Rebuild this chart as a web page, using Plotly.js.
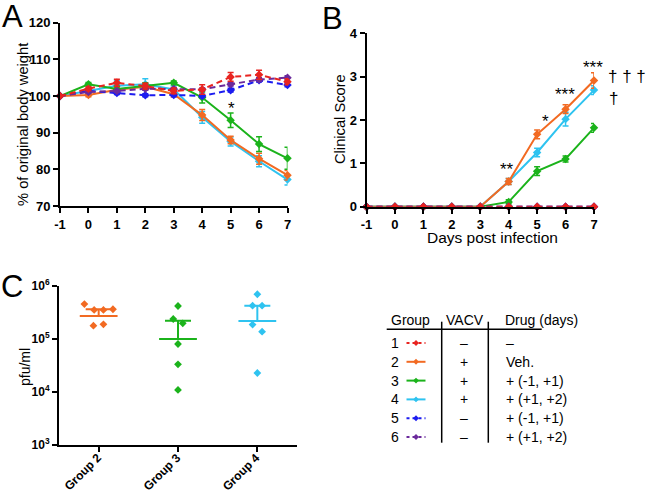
<!DOCTYPE html>
<html><head><meta charset="utf-8">
<script src="https://cdn.plot.ly/plotly-3.0.1.min.js"></script>
<style>html,body{margin:0;padding:0;background:#fff}#plot{width:650px;height:491px}</style>
</head><body><div id="plot"></div>
<script>
// ---------- data ----------
const days = [-1, 0, 1, 2, 3, 4, 5, 6, 7];
const dayLabels = ['-1', '0', '1', '2', '3', '4', '5', '6', '7'];
// Panel A: % of original body weight (mean, SEM)
const wG1 = [100, 102.0, 103.6, 102.7, 101.4, 101.8, 105.2, 105.8, 103.9];
const eG1 = [0, 0.5, 1.0, 0.8, 0.8, 1.3, 1.2, 1.2, 0.8];
const wG2 = [100, 100.3, 101.7, 102.5, 100.5, 94.8, 88.0, 82.9, 78.4];
const eG2 = [0, 0.5, 0.8, 0.8, 0.8, 1.5, 1.0, 1.5, 1.3];
const wG3 = [100, 103.2, 101.9, 102.8, 103.6, 99.6, 93.4, 86.9, 83.0];
const eG3 = [0, 0.5, 0.8, 0.8, 0.5, 1.5, 2.0, 2.0, 3.0];
const wG4 = [100, 101.3, 102.8, 103.2, 101.8, 94.2, 87.6, 82.2, 77.2];
const eG4 = [0, 0.6, 1.5, 1.5, 1.0, 1.6, 1.2, 1.5, 1.5];
const wG5 = [100, 101.4, 100.8, 100.2, 100.3, 100.0, 101.6, 104.3, 103.0];
const eG5 = [0, 0.4, 0.4, 0.4, 0.4, 0.4, 0.5, 0.5, 0.5];
const wG6 = [100, 101.1, 101.4, 102.0, 101.9, 101.8, 103.2, 104.5, 105.0];
const eG6 = [0, 0.4, 0.4, 0.4, 0.4, 0.4, 0.5, 0.5, 0.5];
// Panel B: clinical score (mean, SEM)
const sG1 = [0, 0, 0, 0, 0, 0, 0, 0, 0];
const sG2 = [0, 0, 0, 0, 0, 0.58, 1.67, 2.25, 2.91];
const seG2 = [0, 0, 0, 0, 0, 0.07, 0.1, 0.1, 0.18];
const sG3 = [0, 0, 0, 0, 0, 0.11, 0.82, 1.10, 1.82];
const seG3 = [0, 0, 0, 0, 0, 0.05, 0.1, 0.07, 0.1];
const sG4 = [0, 0, 0, 0, 0, 0.58, 1.25, 2.02, 2.69];
const seG4 = [0, 0, 0, 0, 0, 0.07, 0.1, 0.16, 0.1];
const sG5 = [0, 0, 0, 0, 0, 0, 0, 0, 0];
const sG6 = [0, 0, 0, 0, 0, 0, 0, 0, 0];
// Panel C: pfu/ml per animal
const cGroups = ['Group 2', 'Group 3', 'Group 4'];
const pfuG2 = [4.5e5, 3.5e5, 3.5e5, 3.6e5, 1.77e5, 1.87e5];
const jitG2 = [-0.18, -0.057, 0.06, 0.18, -0.066, 0.06];
const pfuG3 = [4.15e5, 2.36e5, 1.96e5, 7.98e4, 3.3e4, 1.09e4];
const jitG3 = [0, -0.06, 0.06, 0, 0, 0];
const pfuG4 = [6.9e5, 4.2e5, 4.2e5, 1.85e5, 1.36e5, 2.27e4];
const jitG4 = [0, -0.06, 0.06, -0.06, 0.06, 0];
const pfuMean = [2.7e5, 9.9e4, 2.16e5];
const pfuUpper = [3.6e5, 2.19e5, 4.2e5];
// Table
const tblGroups = ['1', '2', '3', '4', '5', '6'];
const tblVACV = ['\u2013', '+', '+', '+', '\u2013', '\u2013'];
const tblDrug = ['\u2013', 'Veh.', '+ (-1, +1)', '+ (+1, +2)', '+ (-1, +1)', '+ (+1, +2)'];

// ---------- styles ----------
const C = {g1: '#E82420', g2: '#F26A22', g3: '#1BB31B', g4: '#2EC3F0', g5: '#1C1CF0', g6: '#6B2A9C'};
const W = 650, H = 491;
const px = x => x / W, py = y => 1 - y / H;
const F = 'Arial, "Liberation Sans", sans-serif';

function series(xa, ya, x, y, e, col, dash) {
  return {
    type: 'scatter', mode: 'lines+markers', x: x, y: y, xaxis: xa, yaxis: ya,
    line: {color: col, width: 2, dash: dash ? '6px,4px' : 'solid'},
    marker: {symbol: 'diamond', size: 6.5, color: col, line: {width: 0}},
    error_y: e ? {type: 'data', array: e, visible: true, color: col, thickness: 1.5, width: 3} : {visible: false},
    cliponaxis: false, showlegend: false, hoverinfo: 'skip'
  };
}

const traces = [
  // Panel A
  series('x', 'y', days, wG4, eG4, C.g4, false),
  series('x', 'y', days, wG2, eG2, C.g2, false),
  series('x', 'y', days, wG3, eG3, C.g3, false),
  series('x', 'y', days, wG5, eG5, C.g5, true),
  series('x', 'y', days, wG6, eG6, C.g6, true),
  series('x', 'y', days, wG1, eG1, C.g1, true),
  // Panel B
  series('x2', 'y2', days, sG3, seG3, C.g3, false),
  series('x2', 'y2', days, sG4, seG4, C.g4, false),
  series('x2', 'y2', days, sG2, seG2, C.g2, false),
  series('x2', 'y2', days, sG5, null, C.g5, true),
  series('x2', 'y2', days, sG6, null, C.g6, true),
  series('x2', 'y2', days, sG1, null, C.g1, true),
];

// Panel C
const cCols = [C.g2, C.g3, C.g4];
const cPts = [pfuG2, pfuG3, pfuG4];
const cJit = [jitG2, jitG3, jitG4];
cPts.forEach((pts, i) => {
  traces.push({
    type: 'scatter', mode: 'markers', xaxis: 'x3', yaxis: 'y3',
    x: [i], y: [pfuMean[i]],
    marker: {symbol: 'line-ew', size: 27, color: cCols[i], line: {color: cCols[i], width: 2}},
    error_y: {type: 'data', symmetric: false, array: [pfuUpper[i] - pfuMean[i]], arrayminus: [0], color: cCols[i], thickness: 2, width: 13},
    showlegend: false, hoverinfo: 'skip', cliponaxis: false
  });
  traces.push({
    type: 'scatter', mode: 'markers', xaxis: 'x3', yaxis: 'y3',
    x: cJit[i].map(j => i + j), y: pts,
    marker: {symbol: 'diamond', size: 6, color: cCols[i], line: {width: 0}},
    showlegend: false, hoverinfo: 'skip', cliponaxis: false
  });
});

// Table legend samples (hidden pixel-space axis)
const rowY = tblGroups.map((g, i) => 343 + 18.8 * i);
const tblCols = [C.g1, C.g2, C.g3, C.g4, C.g5, C.g6];
const tblDash = [true, false, false, false, true, true];
tblGroups.forEach((g, i) => {
  traces.push({
    type: 'scatter', mode: 'lines', xaxis: 'x4', yaxis: 'y4',
    x: [406.5, 425.5], y: [rowY[i], rowY[i]],
    line: {color: tblCols[i], width: 2, dash: tblDash[i] ? '3px,3px' : 'solid'},
    showlegend: false, hoverinfo: 'skip'
  });
  traces.push({
    type: 'scatter', mode: 'markers', xaxis: 'x4', yaxis: 'y4',
    x: [416], y: [rowY[i]],
    marker: {symbol: 'diamond', size: 4.5, color: tblCols[i], line: {width: 0}},
    showlegend: false, hoverinfo: 'skip'
  });
});

const tickFont = {family: F, size: 13, color: '#000', weight: 'bold'};
const axBase = {
  showline: true, linecolor: '#000', linewidth: 2, ticks: 'outside', ticklen: 5, tickwidth: 2,
  tickcolor: '#000', showgrid: false, zeroline: false, tickfont: tickFont, fixedrange: true
};

const annotations = [];
function ann(x, y, text, size, extra) {
  annotations.push(Object.assign({
    xref: 'paper', yref: 'paper', x: px(x), y: py(y), text: text, showarrow: false,
    xanchor: 'center', yanchor: 'middle', font: {family: F, size: size, color: '#000'}
  }, extra || {}));
}
ann(12, 17, 'A', 31);
ann(332, 18, 'B', 31);
ann(12, 286, 'C', 31);
// axis titles
ann(23, 125, '% of original body weight', 14.7, {textangle: -90});
ann(340, 119, 'Clinical Score', 14.7, {textangle: -90});
ann(25, 367, 'pfu/ml', 14, {textangle: -90});
ann(493, 238, 'Days post infection', 15.5);
// panel C category labels
cGroups.forEach((g, i) => {
  ann(107 + 79.2 * i, 448, g, 12, {textangle: -45, xanchor: 'right', yanchor: 'top',
    font: {family: F, size: 12, color: '#000', weight: 'bold'}});
});
// significance marks
ann(231, 109, '*', 17);
ann(507, 170, '**', 17);
ann(545, 122, '*', 17);
ann(565, 95, '***', 17);
ann(593, 67, '***', 17);
ann(627, 77, '\u2020 \u2020 \u2020', 17);
ann(613, 99, '\u2020', 17);
// table
ann(410, 320, 'Group', 14);
ann(465, 320, 'VACV', 14);
ann(541, 320, 'Drug (days)', 14);
tblGroups.forEach((g, i) => {
  ann(395, rowY[i], g, 14);
  ann(463.5, rowY[i], tblVACV[i], 14);
  ann(504, rowY[i], tblDrug[i], 14, {xanchor: 'left'});
});

const shapes = [
  {type: 'line', xref: 'paper', yref: 'paper', x0: px(386.7), x1: px(541.7), y0: py(329.3), y1: py(329.3), line: {color: '#000', width: 1.5}},
  {type: 'line', xref: 'paper', yref: 'paper', x0: px(441.7), x1: px(441.7), y0: py(321.7), y1: py(442.7), line: {color: '#000', width: 1.5}},
  {type: 'line', xref: 'paper', yref: 'paper', x0: px(488.3), x1: px(488.3), y0: py(321.7), y1: py(442.7), line: {color: '#000', width: 1.5}},
];

const layout = {
  width: W, height: H, margin: {l: 0, r: 0, t: 0, b: 0},
  paper_bgcolor: '#fff', plot_bgcolor: 'rgba(0,0,0,0)', showlegend: false,
  font: {family: F, color: '#000'},
  xaxis: Object.assign({}, axBase, {domain: [px(60), px(287.5)], range: [-1, 7], tickvals: days, ticktext: dayLabels, anchor: 'y'}),
  yaxis: Object.assign({}, axBase, {domain: [py(206), py(22.7)], range: [70, 120], dtick: 10, anchor: 'x'}),
  xaxis2: Object.assign({}, axBase, {domain: [px(366.5), px(594)], range: [-1, 7], tickvals: days, ticktext: dayLabels, anchor: 'y2'}),
  yaxis2: Object.assign({}, axBase, {domain: [py(206.7), py(33.3)], range: [0, 4], dtick: 1, anchor: 'x2'}),
  xaxis3: Object.assign({}, axBase, {domain: [px(59), px(297)], range: [-0.5, 2.5], tickvals: [0, 1, 2],
    showticklabels: false, anchor: 'y3'}),
  yaxis3: Object.assign({}, axBase, {domain: [py(445), py(285.7)], type: 'log', range: [3, 6],
    tickvals: [1e3, 1e4, 1e5, 1e6], ticktext: ['10<sup>3</sup>', '10<sup>4</sup>', '10<sup>5</sup>', '10<sup>6</sup>'],
    anchor: 'x3', tickfont: {family: F, size: 12, color: '#000', weight: 'bold'}}),
  xaxis4: {domain: [0, 1], range: [0, W], visible: false, fixedrange: true, anchor: 'y4'},
  yaxis4: {domain: [0, 1], range: [H, 0], visible: false, fixedrange: true, anchor: 'x4'},
  annotations: annotations, shapes: shapes
};

Plotly.newPlot('plot', traces, layout, {staticPlot: true, displayModeBar: false});
</script></body></html>
